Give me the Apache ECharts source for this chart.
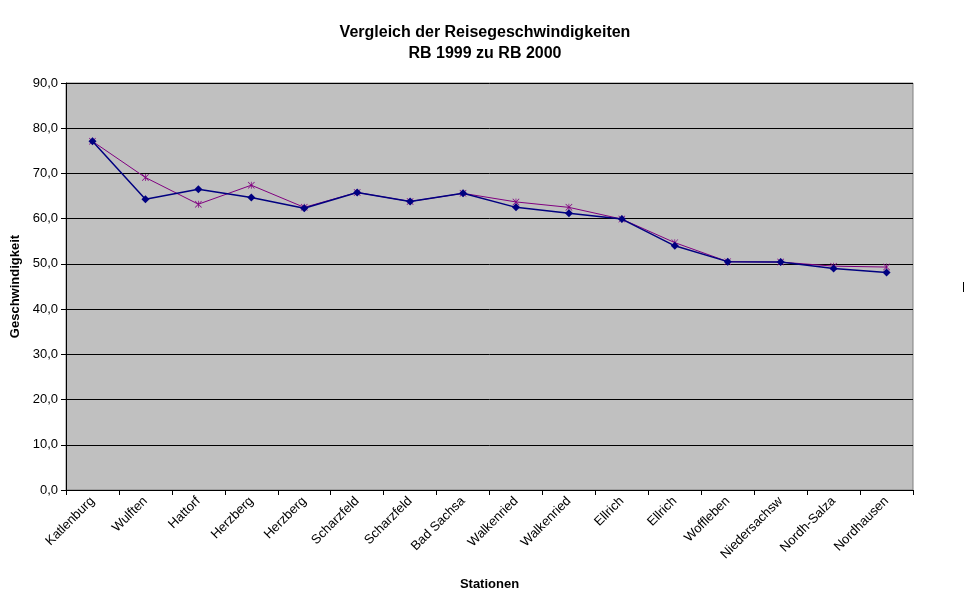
<!DOCTYPE html>
<html>
<head>
<meta charset="utf-8">
<script src="https://cdn.jsdelivr.net/npm/echarts@6/dist/echarts.min.js"></script>
<style>html,body{margin:0;padding:0;background:#fff}#c{width:970px;height:604px}</style>
</head>
<body>
<div id="c"></div>
<script>
var stations = ['Katlenburg','Wulften','Hattorf','Herzberg','Herzberg','Scharzfeld','Scharzfeld','Bad Sachsa','Walkenried','Walkenried','Ellrich','Ellrich','Woffleben','Niedersachsw','Nordh-Salza','Nordhausen'];
var rb1999 = [77.1,64.3,66.5,64.7,62.3,65.8,63.8,65.6,62.5,61.2,59.9,54.0,50.5,50.4,49.0,48.1];
var rb2000 = [77.1,69.1,63.2,67.4,62.5,65.8,63.8,65.6,63.7,62.5,59.9,54.7,50.5,50.4,49.5,49.3];
var yTicks = {min:0, max:90, interval:10};

var FONT = '"Liberation Sans", Arial, sans-serif';
var asterisk = 'path://M9,0 H11 V20 H9 Z M0,1.4 L1.4,0 L20,18.6 L18.6,20 Z M18.6,0 L20,1.4 L1.4,20 L0,18.6 Z';
var chart = echarts.init(document.getElementById('c'), null, {renderer:'canvas'});
chart.setOption({
  animation:false,
  backgroundColor:'#ffffff',
  textStyle:{fontFamily:FONT},
  title:{
    text:'Vergleich der Reisegeschwindigkeiten\nRB 1999 zu RB 2000',
    left:'center', top:17,
    textStyle:{fontFamily:FONT, fontSize:16, fontWeight:'bold', color:'#000', lineHeight:21}
  },
  grid:{left:66, right:57, top:83, bottom:114, outerBoundsMode:'none', containLabel:false, show:true, backgroundColor:'#c0c0c0', borderColor:'#808080', borderWidth:1},
  xAxis:{
    type:'category', data:stations, boundaryGap:true,
    name:'Stationen', nameLocation:'middle', nameGap:88,
    nameTextStyle:{fontFamily:FONT, fontSize:13, fontWeight:'bold', color:'#000'},
    axisLine:{lineStyle:{color:'#000', width:1}},
    axisTick:{show:true, alignWithLabel:false, length:5, lineStyle:{color:'#000'}},
    axisLabel:{rotate:45, interval:0, fontFamily:FONT, fontSize:13, color:'#000', margin:9}
  },
  yAxis:{
    type:'value', min:yTicks.min, max:yTicks.max, interval:yTicks.interval,
    name:'Geschwindigkeit', nameLocation:'middle', nameGap:44, nameRotate:90,
    nameTextStyle:{fontFamily:FONT, fontSize:13, fontWeight:'bold', color:'#000'},
    axisLine:{show:true, lineStyle:{color:'#000', width:1}},
    axisTick:{show:true, length:5, lineStyle:{color:'#000'}},
    axisLabel:{fontFamily:FONT, fontSize:13, color:'#000', margin:8, formatter:function(v){return v.toFixed(1).replace('.',',');}},
    splitLine:{show:true, lineStyle:{color:'#000', width:1}}
  },
  series:[
    {name:'RB 2000', type:'line', data:rb2000, symbol:asterisk, symbolSize:7,
     lineStyle:{color:'#800080', width:1}, itemStyle:{color:'#800080'}, z:2},
    {name:'RB 1999', type:'line', data:rb1999, symbol:'diamond', symbolSize:8,
     lineStyle:{color:'#000080', width:1.5}, itemStyle:{color:'#000080'}, z:3}
  ],
  graphic:[{type:'line', shape:{x1:963.5, y1:282, x2:963.5, y2:292}, style:{stroke:'#000', lineWidth:1}}]
});
</script>
</body>
</html>
